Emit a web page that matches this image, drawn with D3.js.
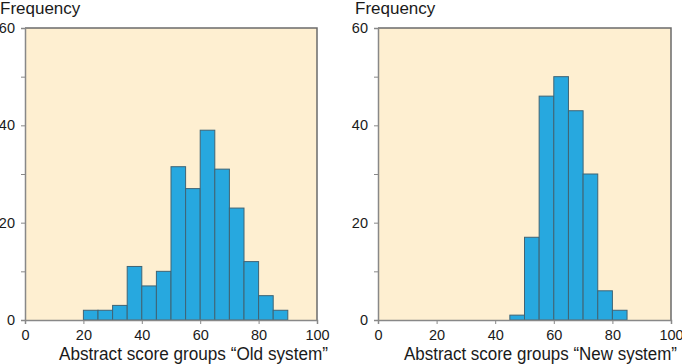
<!DOCTYPE html>
<html>
<head>
<meta charset="utf-8">
<script src="https://cdn.jsdelivr.net/npm/d3@7"></script>
<style>
  body { margin: 0; background: #fff; }
  text { font-family: "Liberation Sans", Arial, sans-serif; fill: #1a1a1a; }
</style>
</head>
<body>
<div id="chart"></div>
<script>
// bin lower edges (width 5) and counts
const oldBins = [20, 25, 30, 35, 40, 45, 50, 55, 60, 65, 70, 75, 80, 85];
const oldCounts = [2, 2, 3, 11, 7, 10, 31.5, 27, 39, 31, 23, 12, 5, 2];
const newBins = [45, 50, 55, 60, 65, 70, 75, 80];
const newCounts = [1, 17, 46, 50, 43, 30, 6, 2];
const binWidth = 5;
const xTicks = [0, 20, 40, 60, 80, 100];
const yTicks = [0, 20, 40, 60];
const yMinor = [10, 30, 50];

const width = 682, height = 364;
const svg = d3.select("#chart").append("svg")
  .attr("width", width)
  .attr("height", height);

function drawPanel(opts) {
  const x = d3.scaleLinear().domain([0, 100]).range([opts.left, opts.right]);
  const y = d3.scaleLinear().domain([0, 60]).range([320, 28]);
  const g = svg.append("g");

  // plot background
  g.append("rect")
    .attr("x", x(0)).attr("y", y(60))
    .attr("width", x(100) - x(0)).attr("height", y(0) - y(60))
    .attr("fill", "#feefd1");

  // bars
  const data = opts.bins.map((b, i) => ({ x0: b, n: opts.counts[i] }));
  g.selectAll(".bar")
    .data(data)
    .enter().append("rect")
    .attr("class", "bar")
    .attr("x", d => x(d.x0))
    .attr("y", d => y(d.n))
    .attr("width", d => x(d.x0 + binWidth) - x(d.x0))
    .attr("height", d => y(0) - y(d.n))
    .attr("fill", "#27a8df")
    .attr("stroke", "#3f6475")
    .attr("stroke-width", 1);

  // top and right frame
  g.append("path")
    .attr("d", `M${x(0)},${y(60)}H${x(100)}V${y(0)}`)
    .attr("fill", "none")
    .attr("stroke", "#6b6b6b")
    .attr("stroke-width", 1.5);

  // x axis
  const xAxis = g.append("g")
    .attr("transform", `translate(0,${y(0)})`)
    .call(d3.axisBottom(x).tickValues(xTicks).tickSize(4).tickPadding(6));
  xAxis.select(".domain").attr("stroke", "#888").attr("stroke-width", 1.5);
  xAxis.selectAll(".tick line").attr("stroke", "#888");
  xAxis.selectAll("text").style("font-size", "14.5px").attr("fill", "#1a1a1a");

  // y axis
  const yAxis = g.append("g")
    .attr("transform", `translate(${x(0)},0)`)
    .call(d3.axisLeft(y).tickValues(yTicks).tickSize(4).tickPadding(6));
  yAxis.select(".domain").attr("stroke", "#888").attr("stroke-width", 1.5);
  yAxis.selectAll(".tick line").attr("stroke", "#888");
  yAxis.selectAll("text").style("font-size", "14.5px").attr("fill", "#1a1a1a");

  g.append("g")
    .attr("transform", `translate(${x(0)},0)`)
    .call(d3.axisLeft(y).tickValues(yMinor).tickSize(4).tickFormat(""))
    .call(a => a.select(".domain").remove())
    .selectAll(".tick line").attr("stroke", "#888");

  // labels
  g.append("text")
    .attr("x", opts.freqX).attr("y", 14)
    .style("font-size", "17px")
    .text("Frequency");

  g.append("text")
    .attr("x", opts.titleX).attr("y", 360)
    .style("font-size", "17.5px")
    .attr("textLength", opts.titleW)
    .attr("lengthAdjust", "spacingAndGlyphs")
    .text(opts.title);
}

drawPanel({
  left: 25, right: 317, bins: oldBins, counts: oldCounts,
  freqX: 0, titleX: 59, titleW: 269, title: "Abstract score groups \u201cOld system\u201d"
});
drawPanel({
  left: 378, right: 671, bins: newBins, counts: newCounts,
  freqX: 355, titleX: 404, titleW: 273, title: "Abstract score groups \u201cNew system\u201d"
});
</script>
</body>
</html>
